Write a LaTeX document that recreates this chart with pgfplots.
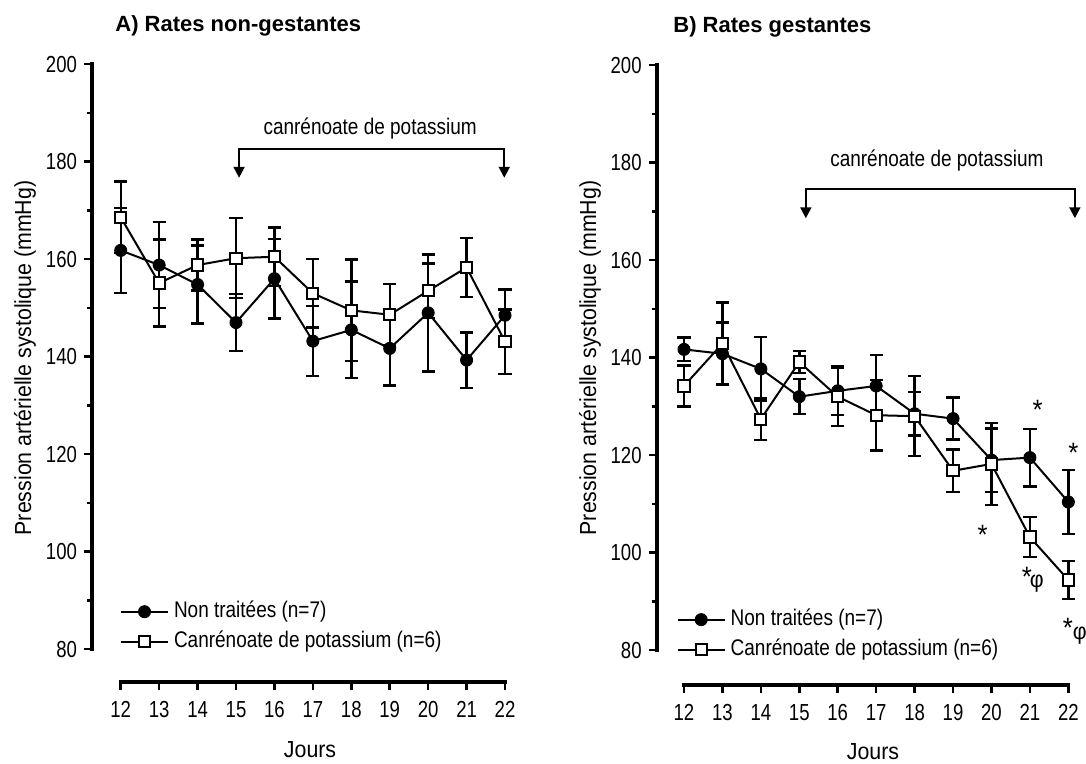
\documentclass[border=0pt]{standalone}
\usepackage{pgfplots}
\pgfplotsset{compat=1.18}
\usepackage{pgfplotstable}
\usetikzlibrary{arrows.meta}
\usepackage{fontspec}
\setmainfont{Liberation Sans}[FakeStretch=0.92]
\newfontfamily\tickfont{Liberation Sans}[FakeStretch=0.8]
\newfontfamily\legfont{Liberation Sans}[FakeStretch=0.84]
\newfontfamily\titlefont{Liberation Sans}
\newcommand\f{\fontsize{11.6}{13.8}\selectfont}
\newcommand\ft{\tickfont\fontsize{11.6}{13.8}\selectfont}
\newcommand\fl{\legfont\fontsize{11.3}{13.5}\selectfont}

\pgfplotstableread{
x y e
12 161.8 8.7
13 158.8 8.8
14 154.8 8.0
15 147.0 5.8
16 156.0 8.2
17 143.2 7.2
18 145.5 9.9
19 141.7 7.6
20 149.0 12.0
21 139.3 5.7
22 148.5 5.3
}\Anon
\pgfplotstableread{
x y e
12 168.6 7.3
13 155.1 8.9
14 158.8 5.2
15 160.2 8.2
16 160.5 6.0
17 153.0 7.0
18 149.5 10.4
19 148.6 6.3
20 153.5 5.6
21 158.3 6.0
22 143.1 6.6
}\Acan
\pgfplotstableread{
x y e
12 141.7 2.4
13 140.8 6.4
14 137.7 6.5
15 132.0 3.6
16 133.2 5.0
17 134.2 6.3
18 128.5 4.5
19 127.5 4.3
20 119.0 6.5
21 119.5 5.9
22 110.4 6.6
}\Bnon
\pgfplotstableread{
x y e
12 134.2 4.2
13 142.9 8.4
14 127.4 4.3
15 139.1 2.3
16 132.0 6.0
17 128.2 7.2
18 128.0 8.2
19 116.8 4.4
20 118.2 8.4
21 103.2 4.1
22 94.4 3.9
}\Bcan

\tikzset{
  sigstar/.style={font=\fontsize{14}{16}\selectfont, anchor=base, yshift=-8pt},
  sigphi/.style={font=\f, anchor=base, yshift=-2pt},
}
\pgfplotsset{
  panel/.style={
    scale only axis, clip=false,
    axis x line=bottom, axis y line=left,
    axis line style={draw=none},
    xmax=22.4, ymax=200,
    xtick={12,...,22}, ytick={80,100,...,200}, minor ytick={90,110,...,190},
    tick align=outside, major tick length=4pt, minor tick length=2.5pt,
    tick style={black, line width=1.3pt},
    /pgf/number format/assume math mode=true,
    ticklabel style={font=\ft},
    xticklabel style={yshift=-2pt},
    every axis title shift=0pt,
    title style={font=\titlefont\fontsize{11}{13}\selectfont\bfseries, anchor=base west, inner sep=0pt},
    legend cell align=left,
    legend image code/.code={\draw[mark repeat=2,mark phase=2,##1] plot coordinates {(0pt,0pt) (11.75pt,0pt) (23.5pt,0pt)};},
    legend style={draw=none, fill=none, inner sep=0pt, outer sep=0pt, row sep=0pt, anchor=west,
      nodes={inner xsep=2.5pt, inner ysep=2pt, text height=8.3pt, text depth=2.7pt, font=\fl}},
  },
  errbar/.style={
    error bars/y dir=both, error bars/y explicit,
    error bars/error bar style={line width=1.2pt, black},
    error bars/error mark options={rotate=90, line width=1.2pt, mark size=3.3pt, black}},
  nonstyle/.style={black, line width=1pt, mark=*, mark size=3pt, mark options={solid, fill=black, line width=0.5pt}, errbar},
  canstyle/.style={black, line width=1pt, mark=square*, mark size=2.8pt, mark options={solid, fill=white, line width=1pt}, errbar},
}

\begin{document}
\begin{tikzpicture}
\useasboundingbox (0,0) rectangle (543pt,382pt);

% Panel A
\begin{axis}[panel,
  at={(46pt,41pt)}, anchor=south west,
  width=214.2pt, height=308.9pt,
  xmin=11.253, ymin=73.27,
  title={A) Rates non-gestantes},
  title style={at={(axis description cs:0.0537,1.0537)}},
  xlabel={Jours}, ylabel={Pression artérielle systolique (mmHg)},
  every axis x label/.style={at={(axis description cs:0.509,-0.110)}, anchor=center, font=\f},
  every axis y label/.style={at={(axis description cs:-0.1564,0.5245)}, anchor=center, rotate=90, font=\f},
  legend style={at={(axis description cs:0.0654,0.0895)}},
]
\addplot[nonstyle] table[x=x, y=y, y error=e] {\Anon};
\addlegendentry{Non traitées (n=7)}
\addplot[canstyle] table[x=x, y=y, y error=e] {\Acan};
\addlegendentry{Canrénoate de potassium (n=6)}
\draw[line width=1.8pt, line cap=rect] (axis cs:11.253,80) -- (axis cs:11.253,200);
\draw[line width=1.8pt, line cap=rect] (axis cs:12,73.27) -- (axis cs:22,73.27);
\draw[line width=1pt, {Triangle[width=5.5pt,length=5.5pt]}-{Triangle[width=5.5pt,length=5.5pt]}]
  (axis cs:15.08,176.7) |- (axis cs:21.98,182.6) -- (axis cs:21.98,176.7);
\node[font=\fl] at (axis cs:18.49,186.9) {canrénoate de potassium};
\end{axis}

% Panel B
\begin{axis}[panel,
  at={(328.35pt,39.5pt)}, anchor=south west,
  width=213.5pt, height=309.9pt,
  xmin=11.29, ymin=72.86,
  title={B) Rates gestantes},
  title style={at={(axis description cs:0.0382,1.052)}},
  xlabel={Jours}, ylabel={Pression artérielle systolique (mmHg)},
  every axis x label/.style={at={(axis description cs:0.5066,-0.1076)}, anchor=center, font=\f},
  every axis y label/.style={at={(axis description cs:-0.1562,0.5276)}, anchor=center, rotate=90, font=\f},
  legend style={at={(axis description cs:0.0468,0.0812)}},
]
\addplot[nonstyle] table[x=x, y=y, y error=e] {\Bnon};
\addlegendentry{Non traitées (n=7)}
\addplot[canstyle] table[x=x, y=y, y error=e] {\Bcan};
\addlegendentry{Canrénoate de potassium (n=6)}
\draw[line width=1.8pt, line cap=rect] (axis cs:11.29,80) -- (axis cs:11.29,200);
\draw[line width=1.8pt, line cap=rect] (axis cs:12,72.86) -- (axis cs:22,72.86);
\draw[line width=1pt, {Triangle[width=5.5pt,length=5.5pt]}-{Triangle[width=5.5pt,length=5.5pt]}]
  (axis cs:15.17,168.6) |- (axis cs:22.17,174.7) -- (axis cs:22.17,168.6);
\node[font=\fl] at (axis cs:18.58,180.5) {canrénoate de potassium};
\node[sigstar] at (axis cs:21.20,130.6) {*};
\node[sigstar] at (axis cs:22.13,121.7) {*};
\node[sigstar] at (axis cs:19.77,105.0) {*};
\node[sigstar] at (axis cs:20.92,96.4) {*};
\node[sigphi] at (axis cs:21.18,93.7) {φ};
\node[sigstar] at (axis cs:21.99,85.8) {*};
\node[sigphi] at (axis cs:22.30,83.1) {φ};
\end{axis}
\end{tikzpicture}
\end{document}
